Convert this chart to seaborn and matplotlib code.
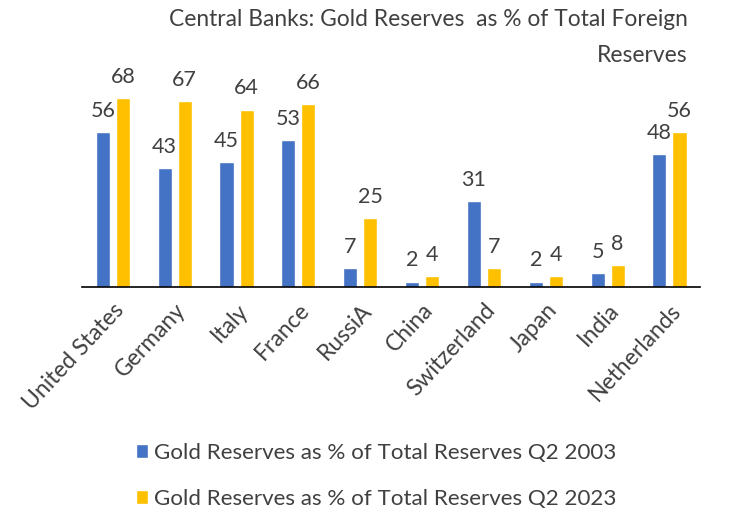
"""
Central bank gold reserves as a share of total foreign reserves, 2003 vs 2023.
"""

import matplotlib
matplotlib.use("Agg")
import matplotlib.pyplot as plt
import pandas as pd
import seaborn as sns

countries = ["United States", "Germany", "Italy", "France", "RussiA",
             "China", "Switzerland", "Japan", "India", "Netherlands"]
gold_2003 = [56, 43, 45, 53, 7, 2, 31, 2, 5, 48]
gold_2023 = [68, 67, 64, 66, 25, 4, 7, 4, 8, 56]
series_names = ["Gold Reserves as % of Total Reserves Q2 2003",
                "Gold Reserves as % of Total Reserves Q2 2023"]

BLUE = "#4472C4"
GOLD = "#FFC000"
TEXT = "#404040"

df = pd.DataFrame({"country": countries,
                   series_names[0]: gold_2003,
                   series_names[1]: gold_2023})
long_df = df.melt(id_vars="country", var_name="series", value_name="pct")

sns.set_theme(style="white")
plt.rcParams["font.family"] = ["Lato", "DejaVu Sans"]

fig = plt.figure(figsize=(7.38, 5.09), dpi=100)
ax = fig.add_axes([0.111, 0.436, 0.838, 0.436])

sns.barplot(data=long_df, x="country", y="pct", hue="series",
            palette=[BLUE, GOLD], width=0.65, gap=0.3,
            saturation=1, legend=True, ax=ax)

# data labels sit a little above each bar
for container in ax.containers:
    ax.bar_label(container, padding=8, fontsize=15.5, color=TEXT)

ax.set_ylim(0, 80)
ax.set_xlim(-0.5, len(countries) - 0.5)
ax.set_xlabel("")
ax.set_ylabel("")
ax.set_yticks([])
ax.tick_params(axis="x", length=0, pad=9)
plt.setp(ax.get_xticklabels(), rotation=47, ha="right",
         rotation_mode="anchor", fontsize=16.5, color=TEXT)

sns.despine(ax=ax, left=True, top=True, right=True)
ax.spines["bottom"].set_color("black")
ax.spines["bottom"].set_linewidth(1.2)

fig.text(0.932, 0.982, "Central Banks: Gold Reserves  as % of Total Foreign\nReserves",
         ha="right", va="top", fontsize=16.4, color=TEXT, linespacing=1.85,
         multialignment="right")

handles, labels = ax.get_legend_handles_labels()
ax.get_legend().remove()
fig.legend(handles, labels, loc="upper left", bbox_to_anchor=(0.172, 0.147),
           frameon=False, fontsize=16.1, labelcolor=TEXT,
           handlelength=0.55, handleheight=0.55, handletextpad=0.25,
           labelspacing=1.15, borderaxespad=0)

fig.savefig("out.png", dpi=100)
